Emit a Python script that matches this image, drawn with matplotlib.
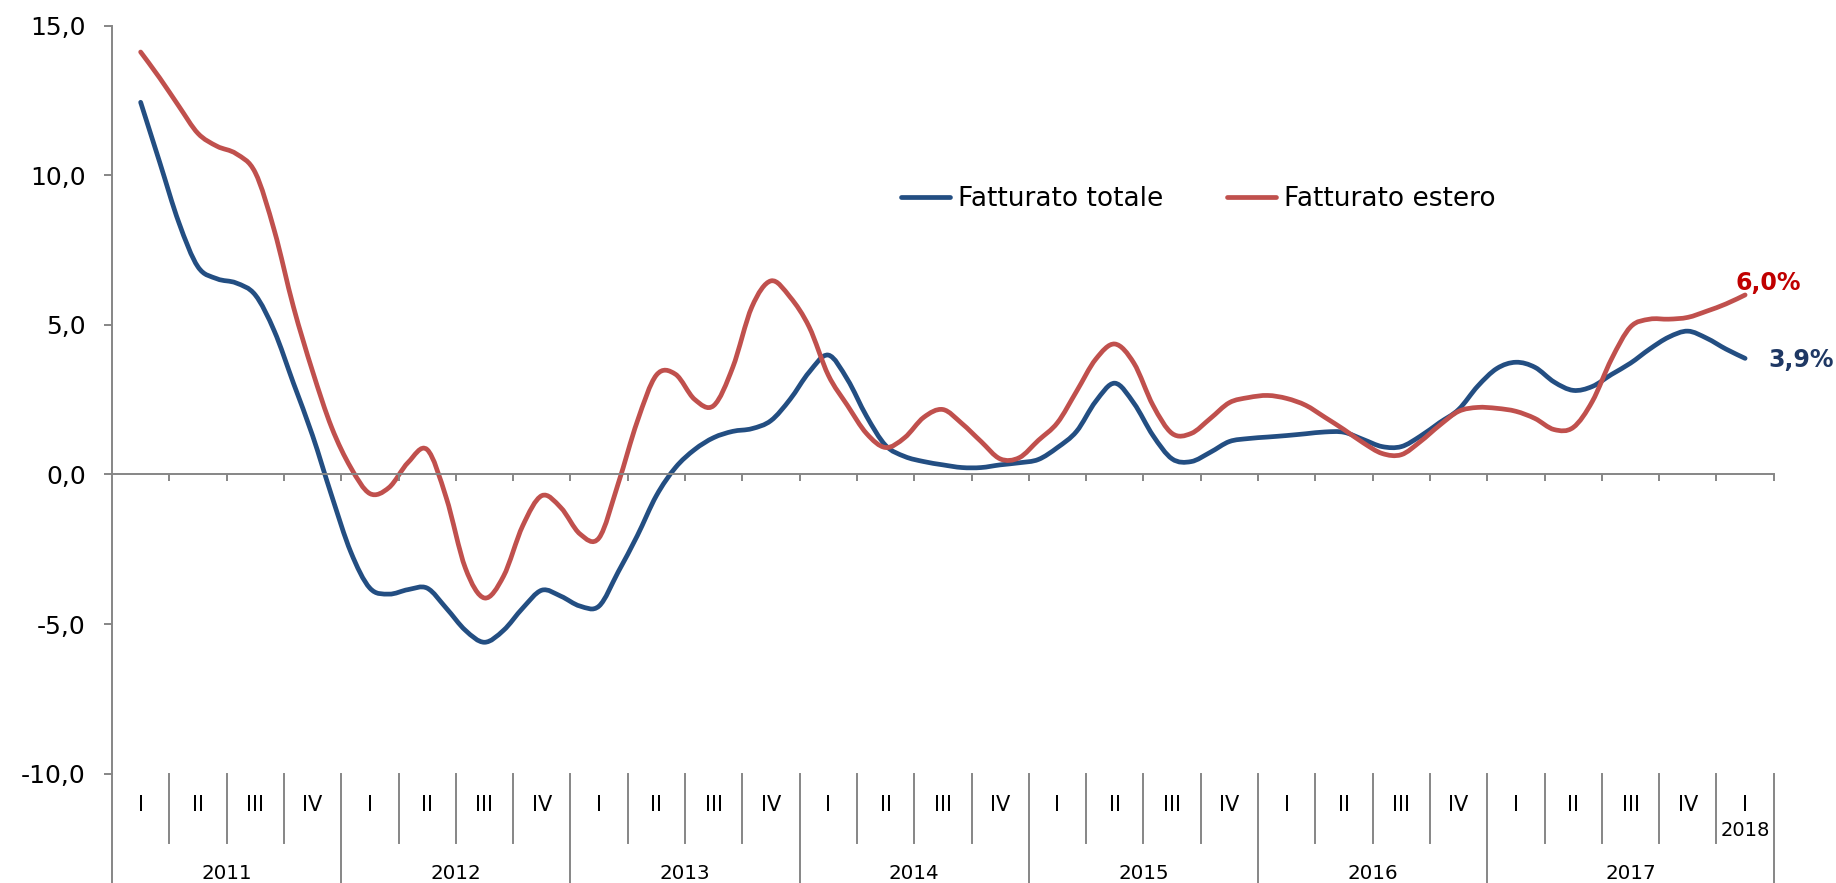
import numpy as np
import matplotlib
matplotlib.use("Agg")
import matplotlib.pyplot as plt
from matplotlib.lines import Line2D
from matplotlib.patches import PathPatch
from matplotlib.path import Path
from matplotlib.transforms import blended_transform_factory

# monthly readings, from the middle of 2011-I to the middle of 2018-I
fatturato_totale = [
    12.44, 10.43, 8.42, 6.94, 6.54, 6.40, 6.00, 4.79, 3.05, 1.30, -0.71, -2.59,
    -3.80, -4.00, -3.85, -3.80, -4.47, -5.21, -5.61, -5.21, -4.47, -3.87, -4.07, -4.40,
    -4.40, -3.26, -2.05, -0.71, 0.23, 0.83, 1.23, 1.44, 1.53, 1.80, 2.51, 3.42,
    3.99, 3.18, 1.95, 0.97, 0.60, 0.43, 0.32, 0.23, 0.23, 0.32, 0.39, 0.50,
    0.90, 1.44, 2.44, 3.05, 2.38, 1.30, 0.52, 0.43, 0.74, 1.10, 1.20, 1.25,
    1.30, 1.36, 1.42, 1.41, 1.17, 0.93, 0.93, 1.28, 1.73, 2.17, 2.95, 3.54,
    3.75, 3.58, 3.09, 2.81, 2.94, 3.34, 3.72, 4.19, 4.59, 4.79, 4.55, 4.19,
    3.88,
]
fatturato_estero = [
    14.12, 13.25, 12.31, 11.40, 10.97, 10.72, 10.09, 8.15, 5.60, 3.45, 1.57, 0.23,
    -0.64, -0.44, 0.40, 0.83, -0.78, -3.13, -4.13, -3.40, -1.72, -0.71, -1.11, -1.99,
    -2.12, -0.31, 1.77, 3.32, 3.35, 2.51, 2.30, 3.58, 5.60, 6.47, 5.93, 4.93,
    3.32, 2.31, 1.37, 0.90, 1.23, 1.91, 2.17, 1.70, 1.10, 0.52, 0.56, 1.14,
    1.73, 2.78, 3.85, 4.36, 3.72, 2.31, 1.37, 1.37, 1.87, 2.40, 2.57, 2.64,
    2.54, 2.31, 1.91, 1.50, 1.06, 0.70, 0.66, 1.10, 1.64, 2.11, 2.24, 2.21,
    2.11, 1.87, 1.50, 1.57, 2.44, 3.85, 4.93, 5.19, 5.19, 5.25, 5.46, 5.70,
    6.00,
]
quarter_labels = ["I", "II", "III", "IV"] * 7 + ["I"]
year_labels = ["2011", "2012", "2013", "2014", "2015", "2016", "2017"]
last_year = "2018"
end_labels = ["3,9%", "6,0%"]

BLUE = "#234E82"
RED = "#C0504D"
GREY = "#868686"


def smooth_path(x, y):
    # Excel-style smoothed line: cubic Bezier segments through the points
    p = np.column_stack([x, y]).astype(float)
    ext = np.vstack([p[0], p, p[-1]])
    verts, codes = [p[0]], [Path.MOVETO]
    for i in range(len(p) - 1):
        a, b, c, d = ext[i], ext[i + 1], ext[i + 2], ext[i + 3]
        verts += [b + (c - a) / 6, c - (d - b) / 6, c]
        codes += [Path.CURVE4] * 3
    return Path(verts, codes)


fig = plt.figure(figsize=(18.36, 8.83), dpi=100)
ax = fig.add_axes([0.0610, 0.1239, 0.9051, 0.8470])

months = np.arange(len(fatturato_totale))
for series, col in [(fatturato_totale, BLUE), (fatturato_estero, RED)]:
    ax.add_patch(PathPatch(smooth_path(months, series), facecolor="none",
                           edgecolor=col, lw=3.4, capstyle="round",
                           joinstyle="round"))

ax.set_xlim(-1.5, 85.5)
ax.set_ylim(-10, 15)
ax.set_yticks([-10, -5, 0, 5, 10, 15])
ax.set_yticklabels([f"{v:.1f}".replace(".", ",") for v in [-10, -5, 0, 5, 10, 15]],
                   fontsize=18)
bounds = np.arange(-1.5, 86, 3)
ax.set_xticks(bounds[1:])
ax.set_xticklabels([])
ax.tick_params(axis="y", direction="out", length=5.8, width=1.4, color=GREY, pad=13)
ax.tick_params(axis="x", direction="out", length=5, width=1.4, color=GREY)
for s in ("top", "right"):
    ax.spines[s].set_visible(False)
ax.spines["bottom"].set_position(("data", 0))
for s in ("left", "bottom"):
    ax.spines[s].set_color(GREY)
    ax.spines[s].set_linewidth(1.4)

# legend
handles = [Line2D([], [], color=BLUE, lw=3.4, solid_capstyle="round"),
           Line2D([], [], color=RED, lw=3.4, solid_capstyle="round")]
ax.legend(handles, ["Fatturato totale", "Fatturato estero"], loc="center left",
          bbox_to_anchor=(0.4907, 0.7746), bbox_transform=fig.transFigure,
          ncol=2, frameon=False, fontsize=19, handlelength=1.86,
          handletextpad=0.3, columnspacing=2.4, borderpad=0, borderaxespad=0)

# end-of-line labels
ax.annotate(end_labels[1], xy=(months[-1], fatturato_estero[-1]), xytext=(-10, 5),
            textcoords="offset pixels", color="#C00000", fontsize=17,
            fontweight="bold", ha="left", va="baseline")
ax.annotate(end_labels[0], xy=(months[-1], fatturato_totale[-1]), xytext=(23, -9),
            textcoords="offset pixels", color="#1F3864", fontsize=17,
            fontweight="bold", ha="left", va="baseline")

# category table under the plot (x in months, y in figure fraction)
tr = blended_transform_factory(ax.transData, fig.transFigure)
row_top, row_bot = 1 - 774 / 883, 1 - 843 / 883
for k, x in enumerate(bounds):
    if k == 0:
        y0, y1 = 0.1239, 0.0
    elif (k % 4 == 0 and k < 28) or k == len(bounds) - 1:
        y0, y1 = row_top, 0.0
    else:
        y0, y1 = row_top, row_bot
    ax.plot([x, x], [y0, y1], color=GREY, lw=1.4, transform=tr, clip_on=False)

for i, lab in enumerate(quarter_labels):
    ax.text(3 * i, 1 - 810.7 / 883, lab, transform=tr, ha="center",
            va="baseline", fontsize=15)
ax.text(3 * (len(quarter_labels) - 1), 1 - 836 / 883, last_year, transform=tr,
        ha="center", va="baseline", fontsize=14)
for j, lab in enumerate(year_labels):
    lo = bounds[4 * j]
    hi = bounds[4 * j + 4] if j < len(year_labels) - 1 else bounds[-1]
    ax.text((lo + hi) / 2, 1 - 879 / 883, lab, transform=tr, ha="center",
            va="baseline", fontsize=14.3)

fig.savefig("out.png", dpi=100, facecolor="white")
plt.close(fig)
